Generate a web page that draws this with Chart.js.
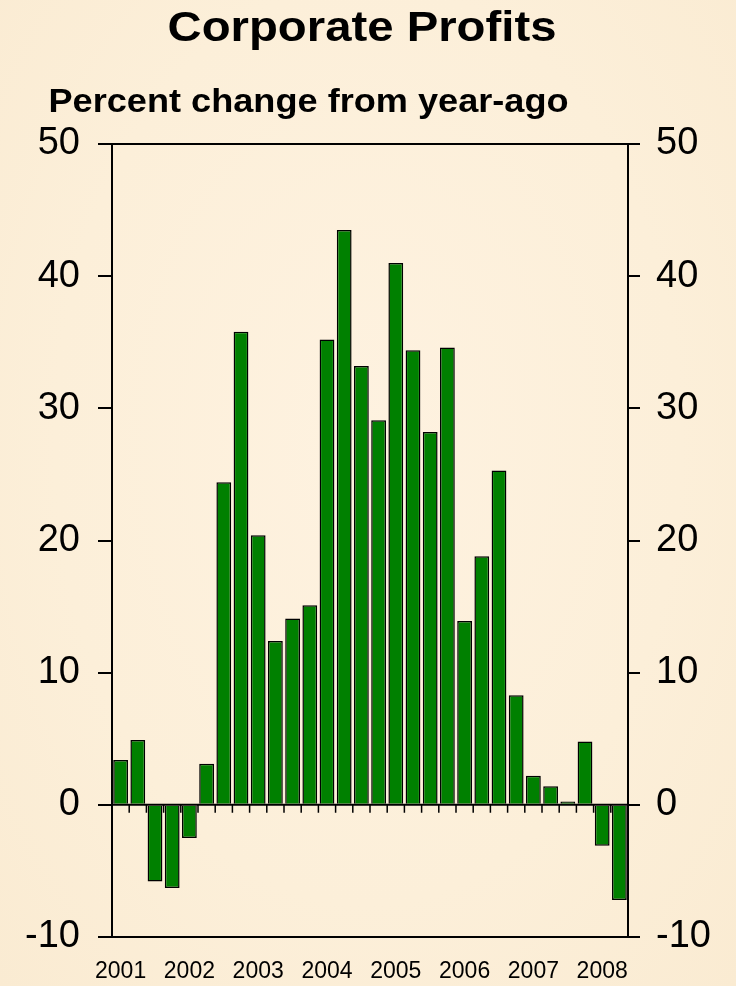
<!DOCTYPE html>
<html>
<head>
<meta charset="utf-8">
<script src="https://cdn.jsdelivr.net/npm/chart.js@4.4.1/dist/chart.umd.min.js"></script>
<style>
  html, body { margin:0; padding:0; }
  body { width:736px; height:986px; position:relative; overflow:hidden;
    background: radial-gradient(ellipse at 50% 45%, #fef2e0 0%, #fcefd9 60%, #faebd2 100%);
    font-family: "Liberation Sans", Arial, sans-serif; }
  #wrap { position:absolute; left:0; top:0; width:736px; height:986px; }
  .t { position:absolute; font-weight:bold; color:#000; white-space:nowrap; text-align:center; line-height:1; }
  #title { left:0; width:724px; top:5px; font-size:43px; transform:scaleX(1.1); transform-origin:362px 0; }
  #sub { left:0; width:617px; top:84px; font-size:33px; transform:scaleX(1.095); transform-origin:308px 0; }
</style>
</head>
<body>
<div id="wrap"><canvas id="c" width="736" height="986"></canvas></div>
<div class="t" id="title">Corporate Profits</div>
<div class="t" id="sub">Percent change from year-ago</div>
<script>
const quarters = [
  "2001Q1","2001Q2","2001Q3","2001Q4",
  "2002Q1","2002Q2","2002Q3","2002Q4",
  "2003Q1","2003Q2","2003Q3","2003Q4",
  "2004Q1","2004Q2","2004Q3","2004Q4",
  "2005Q1","2005Q2","2005Q3","2005Q4",
  "2006Q1","2006Q2","2006Q3","2006Q4",
  "2007Q1","2007Q2","2007Q3","2007Q4",
  "2008Q1","2008Q2"
];
const profitsChange = [
  3.4, 4.9, -5.8, -6.3,
  -2.5, 3.1, 24.4, 35.8,
  20.4, 12.4, 14.1, 15.1,
  35.2, 43.5, 33.2, 29.1,
  41.0, 34.4, 28.2, 34.6,
  13.9, 18.8, 25.3, 8.3,
  2.2, 1.4, 0.25, 4.8,
  -3.1, -7.2
];
const yearLabels = ["2001","2002","2003","2004","2005","2006","2007","2008"];
const yTicks = [-10, 0, 10, 20, 30, 40, 50];

const FONT = "'Liberation Sans', Arial, sans-serif";

const framePlugin = {
  id: 'frame',
  afterDatasetsDraw(chart) {
    const ctx = chart.ctx, a = chart.chartArea;
    const x = chart.scales.x, y = chart.scales.y;
    const y0 = y.getPixelForValue(0);
    const step = x.getPixelForValue(1) - x.getPixelForValue(0);
    ctx.save();
    ctx.strokeStyle = '#000';
    ctx.lineWidth = 2;
    ctx.beginPath();
    ctx.moveTo(a.left, a.top); ctx.lineTo(a.right, a.top);
    ctx.stroke();
    ctx.beginPath();
    ctx.moveTo(a.left, y0); ctx.lineTo(a.right, y0);
    ctx.stroke();
    ctx.lineWidth = 1.5;
    ctx.beginPath();
    for (let i = 0; i <= quarters.length; i++) {
      const px = x.getPixelForValue(i) - step / 2;
      ctx.moveTo(px, y0); ctx.lineTo(px, y0 + 8);
    }
    ctx.stroke();
    ctx.restore();
  }
};

function yAxis(position, tickLen, pad, width) {
  return {
    type: 'linear',
    position: position,
    min: -10, max: 50,
    afterBuildTicks(scale) { scale.ticks = yTicks.map(v => ({ value: v })); },
    afterFit(scale) { scale.width = width; scale.paddingTop = 0; scale.paddingBottom = 0; },
    ticks: {
      color: '#000',
      font: { family: FONT, size: 38 },
      padding: pad,
      callback: v => String(v)
    },
    grid: { drawOnChartArea: false, drawTicks: true, tickLength: tickLen, color: '#000', lineWidth: 2 },
    border: { display: true, color: '#000', width: 2 }
  };
}

new Chart(document.getElementById('c'), {
  type: 'bar',
  data: {
    labels: quarters,
    datasets: [{
      data: profitsChange,
      backgroundColor: '#008000',
      borderColor: '#000',
      borderWidth: 1.5,
      barPercentage: 0.86,
      categoryPercentage: 1.0,
      yAxisID: 'y'
    }]
  },
  options: {
    responsive: false,
    animation: false,
    events: [],
    layout: { padding: { top: 144, bottom: 0, left: 0, right: 0 } },
    plugins: { legend: { display: false }, tooltip: { enabled: false }, title: { display: false } },
    scales: {
      x: {
        type: 'category',
        position: 'bottom',
        grid: { display: false, drawTicks: false },
        border: { display: true, color: '#000', width: 2 },
        afterFit(scale) { scale.height = 49; scale.paddingLeft = 0; scale.paddingRight = 0; },
        ticks: {
          autoSkip: false,
          maxRotation: 0,
          minRotation: 0,
          padding: 21,
          color: '#000',
          font: { family: FONT, size: 23 },
          callback: function(val, idx) {
            const q = quarters[idx];
            return q.endsWith('Q1') ? yearLabels[yearLabels.indexOf(q.slice(0, 4))] : '';
          }
        }
      },
      y: yAxis('left', 14, 18, 112),
      y2: yAxis('right', 12, 16, 108)
    }
  },
  plugins: [framePlugin]
});
</script>
</body>
</html>
